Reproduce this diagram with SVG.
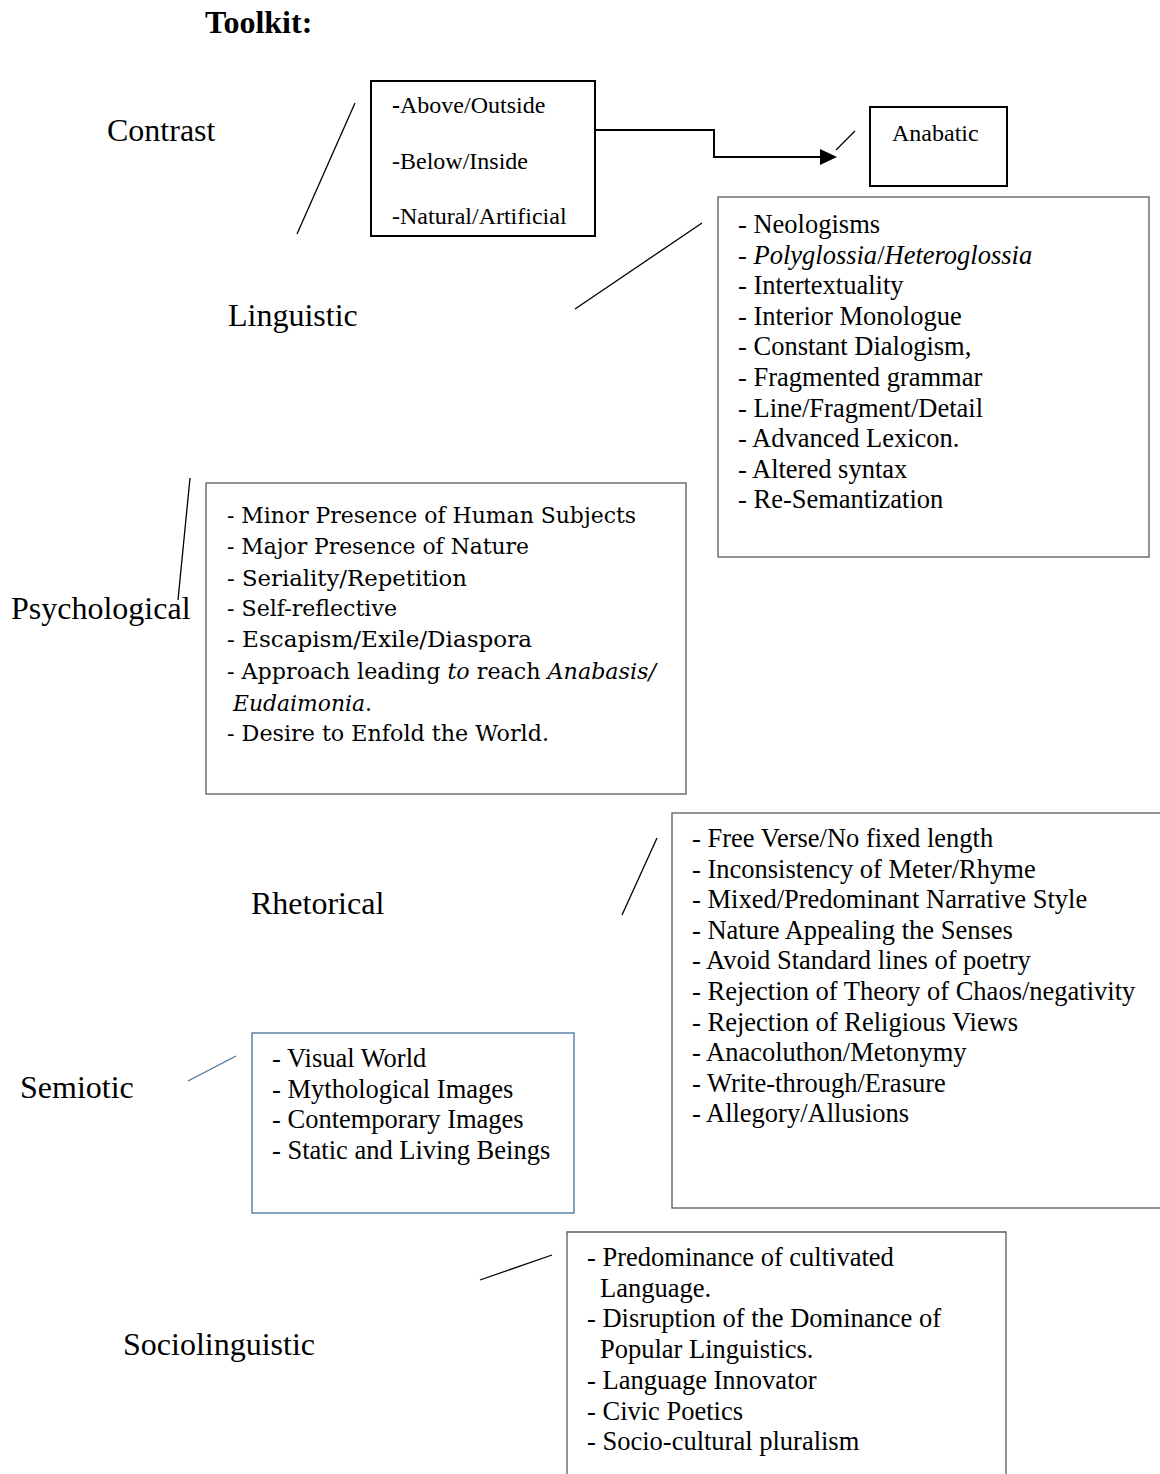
<svg xmlns="http://www.w3.org/2000/svg" width="1160" height="1474" viewBox="0 0 1160 1474">
<style>
.t{font-family:"Liberation Serif","Times New Roman",serif;fill:#000}
.lab{font-size:32px}
.it{font-size:26.5px}
.sm{font-size:24px}
.c{font-family:"DejaVu Serif",serif;font-size:22px;fill:#000}
.i{font-style:italic}
.bx{fill:none;stroke:#000;stroke-width:2}
.gb{fill:none;stroke:#5a5a5a;stroke-width:1.3}
.bb{fill:none;stroke:#41719c;stroke-width:1.3}
.ln{stroke:#000;stroke-width:1.3;fill:none}
</style>
<rect width="1160" height="1474" fill="#fff"/>
<text class="t" x="205" y="33" font-size="32" font-weight="bold">Toolkit:</text>

<g id="contrast">
<text class="t lab" x="107" y="141">Contrast</text>
<rect class="bx" x="371" y="81" width="224" height="155"/>
<text class="t sm" x="392" y="113"><tspan font-weight="bold">-</tspan>Above/Outside</text>
<text class="t sm" x="392" y="169">-Below/Inside</text>
<text class="t sm" x="392" y="224">-Natural/Artificial</text>
</g>

<g id="anabatic">
<rect class="bx" x="870" y="107" width="137" height="79"/>
<text class="t sm" x="892" y="141">Anabatic</text>
</g>

<g id="linguistic">
<text class="t lab" x="228" y="326">Linguistic</text>
<rect class="gb" x="718" y="197" width="431" height="360"/>
<text class="t it" x="738" y="233">- Neologisms</text>
<text class="t it" x="738" y="263.6">- <tspan class="i">Polyglossia</tspan>/<tspan class="i">Heteroglossia</tspan></text>
<text class="t it" x="738" y="294.2">- Intertextuality</text>
<text class="t it" x="738" y="324.8">- Interior Monologue</text>
<text class="t it" x="738" y="355.4">- Constant Dialogism,</text>
<text class="t it" x="738" y="386">- Fragmented grammar</text>
<text class="t it" x="738" y="416.6">- Line/Fragment/Detail</text>
<text class="t it" x="738" y="447.2">- Advanced Lexicon.</text>
<text class="t it" x="738" y="477.8">- Altered syntax</text>
<text class="t it" x="738" y="508.4">- Re-Semantization</text>
</g>

<g id="psychological">
<text class="t lab" x="11" y="619">Psychological</text>
<rect class="gb" x="206" y="483" width="480" height="311"/>
<text class="c" x="227" y="523" textLength="409" lengthAdjust="spacingAndGlyphs">- Minor Presence of Human Subjects</text>
<text class="c" x="227" y="554" textLength="302" lengthAdjust="spacingAndGlyphs">- Major Presence of Nature</text>
<text class="c" x="227" y="586" textLength="240" lengthAdjust="spacingAndGlyphs">- Seriality/Repetition</text>
<text class="c" x="227" y="616" textLength="170" lengthAdjust="spacingAndGlyphs">- Self-reflective</text>
<text class="c" x="227" y="647" textLength="305" lengthAdjust="spacingAndGlyphs">- Escapism/Exile/Diaspora</text>
<text class="c" x="227" y="679" textLength="429" lengthAdjust="spacingAndGlyphs">- Approach leading <tspan class="i">to</tspan> reach <tspan class="i">Anabasis/</tspan></text>
<text class="c" x="233" y="711" textLength="139" lengthAdjust="spacingAndGlyphs"><tspan class="i">Eudaimonia</tspan>.</text>
<text class="c" x="227" y="741" textLength="322" lengthAdjust="spacingAndGlyphs">- Desire to Enfold the World.</text>
</g>

<g id="rhetorical">
<text class="t lab" x="251" y="914">Rhetorical</text>
<rect class="gb" x="672" y="813" width="520" height="395"/>
<text class="t it" x="692" y="847">- Free Verse/No fixed length</text>
<text class="t it" x="692" y="877.6">- Inconsistency of Meter/Rhyme</text>
<text class="t it" x="692" y="908.2">- Mixed/Predominant Narrative Style</text>
<text class="t it" x="692" y="938.8">- Nature Appealing the Senses</text>
<text class="t it" x="692" y="969.4">- Avoid Standard lines of poetry</text>
<text class="t it" x="692" y="1000">- Rejection of Theory of Chaos/negativity</text>
<text class="t it" x="692" y="1030.6">- Rejection of Religious Views</text>
<text class="t it" x="692" y="1061.2">- Anacoluthon/Metonymy</text>
<text class="t it" x="692" y="1091.8">- Write-through/Erasure</text>
<text class="t it" x="692" y="1122.4">- Allegory/Allusions</text>
</g>

<g id="semiotic">
<text class="t lab" x="20" y="1098">Semiotic</text>
<rect class="bb" x="252" y="1033" width="322" height="180"/>
<text class="t it" x="272" y="1067">- Visual World</text>
<text class="t it" x="272" y="1097.5">- Mythological Images</text>
<text class="t it" x="272" y="1128">- Contemporary Images</text>
<text class="t it" x="272" y="1158.5">- Static and Living Beings</text>
</g>

<g id="sociolinguistic">
<text class="t lab" x="123" y="1355">Sociolinguistic</text>
<path class="gb" d="M567,1480 V1232 H1006 V1480"/>
<text class="t it" x="587" y="1266">- Predominance of cultivated</text>
<text class="t it" x="600" y="1296.7">Language.</text>
<text class="t it" x="587" y="1327.4">- Disruption of the Dominance of</text>
<text class="t it" x="600" y="1358.1">Popular Linguistics.</text>
<text class="t it" x="587" y="1388.8">- Language Innovator</text>
<text class="t it" x="587" y="1419.5">- Civic Poetics</text>
<text class="t it" x="587" y="1450.2">- Socio-cultural pluralism</text>
</g>

<g id="connectors">
<line class="ln" x1="355" y1="103" x2="297" y2="234" stroke-width="1.6"/>
<path d="M595,130 H714 V157 H822" fill="none" stroke="#000" stroke-width="2"/>
<polygon points="820,149 837,157 820,165" fill="#000"/>
<line class="ln" x1="836" y1="150" x2="855" y2="131" stroke-width="1.6"/>
<line class="ln" x1="575" y1="309" x2="702" y2="223" stroke-width="1"/>
<line class="ln" x1="190" y1="478" x2="178" y2="600" stroke-width="1"/>
<line class="ln" x1="657" y1="838" x2="622" y2="915" stroke-width="1"/>
<line x1="188" y1="1081" x2="236" y2="1056" stroke="#41719c" stroke-width="1.2"/>
<line class="ln" x1="480" y1="1280" x2="552" y2="1255" stroke-width="1"/>
</g>
</svg>
